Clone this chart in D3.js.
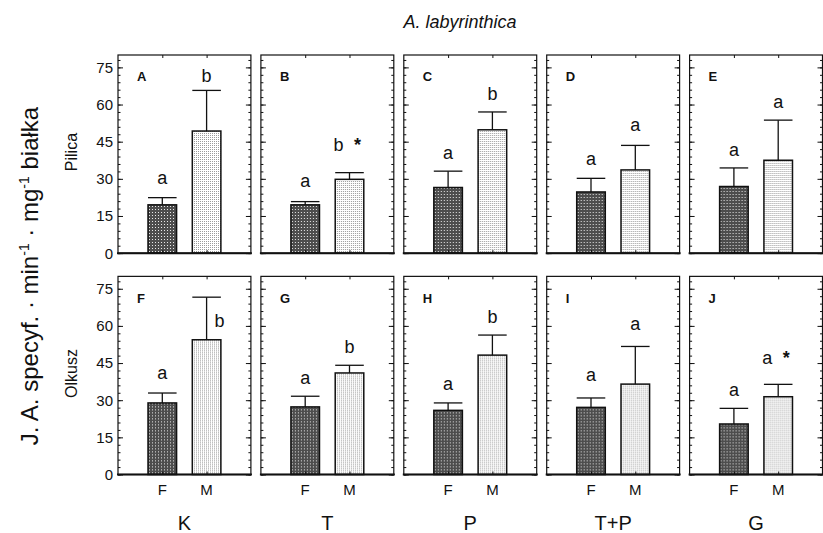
<!DOCTYPE html>
<html>
<head>
<meta charset="utf-8">
<script src="https://cdn.jsdelivr.net/npm/d3@7/dist/d3.min.js"></script>
<style>
  body { margin: 0; background: #fff; }
  text { font-family: "Liberation Sans", Arial, sans-serif; fill: #111; }
</style>
</head>
<body>
<div id="chart"></div>
<script>
// groups
var treatments = ["K", "T", "P", "T+P", "G"];
var sites = ["Pilica", "Olkusz"];
var sexes = ["F", "M"];
var panelIds = [["A", "B", "C", "D", "E"], ["F", "G", "H", "I", "J"]];
var yTicks = [0, 15, 30, 45, 60, 75];

// means and error (upper whisker length), one value per treatment
var pilicaF = [19.5, 19.5, 26.5, 24.7, 26.9];
var pilicaFerr = [2.9, 1.3, 6.6, 5.5, 7.5];
var pilicaM = [49.3, 29.8, 49.8, 33.6, 37.5];
var pilicaMerr = [16.4, 2.7, 7.2, 9.9, 16.2];
var olkuszF = [28.9, 27.3, 25.9, 27.1, 20.4];
var olkuszFerr = [4.0, 4.3, 3.0, 3.8, 6.3];
var olkuszM = [54.4, 41.0, 48.2, 36.5, 31.4];
var olkuszMerr = [17.2, 3.1, 8.1, 15.2, 5.0];

// significance letters, level (in data units) where they were printed, and stars
var pilicaFLetters = ["a", "a", "a", "a", "a"];
var pilicaMLetters = ["b", "b", "b", "a", "a"];
var olkuszFLetters = ["a", "a", "a", "a", "a"];
var olkuszMLetters = ["b", "b", "b", "a", "a"];
var pilicaFLevel = [28.1, 26.7, 37.9, 35.6, 39.2];
var pilicaMLevel = [69.1, 41.3, 61.8, 49.3, 58.7];
var olkuszFLevel = [38.7, 36.4, 34.0, 37.7, 31.6];
var olkuszMLevel = [59.5, 49.2, 61.3, 58.2, 44.8];
var pilicaMStar = [false, true, false, false, false];
var olkuszMStar = [false, false, false, false, true];

var width = 823, height = 533;

var svg = d3.select("#chart").append("svg")
  .attr("width", width)
  .attr("height", height);

var defs = svg.append("defs");
// dark crosshatch for F
var pf = defs.append("pattern").attr("id", "patF")
  .attr("patternUnits", "userSpaceOnUse").attr("width", 3).attr("height", 3);
pf.append("rect").attr("width", 3).attr("height", 3).attr("fill", "#4d4d4d");
pf.append("rect").attr("x", 1).attr("y", 1).attr("width", 1).attr("height", 1).attr("fill", "#e8e8e8");
// light dots for M
var pm = defs.append("pattern").attr("id", "patM")
  .attr("patternUnits", "userSpaceOnUse").attr("width", 2).attr("height", 2);
pm.append("rect").attr("width", 2).attr("height", 2).attr("fill", "#fff");
pm.append("rect").attr("width", 1).attr("height", 1).attr("fill", "#9a9a9a");

var colScale = d3.scaleBand().domain(treatments).range([118, 822.5]).paddingInner(0.07);
var rowScale = d3.scaleBand().domain(sites).range([55, 474.5]).paddingInner(0.105);
var pw = colScale.bandwidth(), ph = rowScale.bandwidth();

var x = d3.scalePoint().domain(sexes).range([0, pw]).padding(1);
var y = d3.scaleLinear().domain([0, 80]).range([ph, 0]);
var barW = pw * 0.215;

var siteData = {
  Pilica: { F: pilicaF, Ferr: pilicaFerr, M: pilicaM, Merr: pilicaMerr,
            FL: pilicaFLetters, ML: pilicaMLetters, FLv: pilicaFLevel, MLv: pilicaMLevel, star: pilicaMStar },
  Olkusz: { F: olkuszF, Ferr: olkuszFerr, M: olkuszM, Merr: olkuszMerr,
            FL: olkuszFLetters, ML: olkuszMLetters, FLv: olkuszFLevel, MLv: olkuszMLevel, star: olkuszMStar }
};

sites.forEach(function (site, si) {
  var sd = siteData[site];
  treatments.forEach(function (tr, ti) {
    var g = svg.append("g")
      .attr("transform", "translate(" + colScale(tr) + "," + rowScale(site) + ")");

    var bars = sexes.map(function (s) {
      return {
        sex: s,
        mean: sd[s][ti],
        err: sd[s + "err"][ti],
        letter: sd[s + "L"][ti],
        level: sd[s + "Lv"][ti],
        star: s === "M" && sd.star[ti]
      };
    });

    // bars
    g.selectAll("rect.bar").data(bars).enter().append("rect")
      .attr("class", "bar")
      .attr("x", function (d) { return x(d.sex) - barW / 2; })
      .attr("y", function (d) { return y(d.mean); })
      .attr("width", barW)
      .attr("height", function (d) { return y(0) - y(d.mean); })
      .attr("fill", function (d) { return d.sex === "F" ? "url(#patF)" : "url(#patM)"; })
      .attr("stroke", "#111")
      .attr("stroke-width", 1.5);

    // error bars
    g.selectAll("line.err").data(bars).enter().append("line")
      .attr("x1", function (d) { return x(d.sex); })
      .attr("x2", function (d) { return x(d.sex); })
      .attr("y1", function (d) { return y(d.mean); })
      .attr("y2", function (d) { return y(d.mean + d.err); })
      .attr("stroke", "#111").attr("stroke-width", 1.3);
    g.selectAll("line.cap").data(bars).enter().append("line")
      .attr("x1", function (d) { return x(d.sex) - barW / 2; })
      .attr("x2", function (d) { return x(d.sex) + barW / 2; })
      .attr("y1", function (d) { return y(d.mean + d.err); })
      .attr("y2", function (d) { return y(d.mean + d.err); })
      .attr("stroke", "#111").attr("stroke-width", 1.3);

    // letters (moved beside the whisker when printed lower than its cap)
    bars.forEach(function (d) {
      var cx = x(d.sex);
      if (d.level < d.mean + d.err) cx += 13;
      if (d.star) {
        g.append("text").attr("x", cx - 11).attr("y", y(d.level))
          .attr("text-anchor", "middle").attr("font-size", 18).text(d.letter);
        g.append("text").attr("x", cx + 8).attr("y", y(d.level))
          .attr("text-anchor", "middle").attr("font-size", 18).attr("font-weight", "bold").text("*");
      } else {
        g.append("text").attr("x", cx).attr("y", y(d.level))
          .attr("text-anchor", "middle").attr("font-size", 18).text(d.letter);
      }
    });

    // ticks
    var minor = d3.range(0, 80, 3);
    g.append("g").call(d3.axisLeft(y).tickValues(minor).tickSize(-2.5).tickFormat(""));
    g.append("g").call(d3.axisLeft(y).tickValues(yTicks).tickSize(-5).tickFormat(""));
    g.append("g").attr("transform", "translate(" + pw + ",0)")
      .call(d3.axisRight(y).tickValues(minor).tickSize(-2.5).tickFormat(""));
    g.append("g").attr("transform", "translate(" + pw + ",0)")
      .call(d3.axisRight(y).tickValues(yTicks).tickSize(-5).tickFormat(""));
    g.append("g").call(d3.axisTop(x).tickSize(-3).tickFormat(""));
    g.append("g").attr("transform", "translate(0," + ph + ")")
      .call(d3.axisBottom(x).tickSize(-3).tickFormat(""));
    g.selectAll(".domain").remove();
    g.selectAll(".tick line").attr("stroke", "#111");

    // frame
    g.append("rect").attr("width", pw).attr("height", ph)
      .attr("fill", "none").attr("stroke", "#111").attr("stroke-width", 1.2);
    g.append("line").attr("x1", -1).attr("x2", pw + 1).attr("y1", ph).attr("y2", ph)
      .attr("stroke", "#111").attr("stroke-width", 2);

    // panel id
    g.append("text").attr("x", 19).attr("y", si === 0 ? 26 : 27)
      .attr("font-size", 13).attr("font-weight", "bold").text(panelIds[si][ti]);

    // y tick labels on first column
    if (ti === 0) {
      g.selectAll("text.yl").data(yTicks).enter().append("text")
        .attr("x", -5).attr("y", function (d) { return y(d); })
        .attr("dy", "0.36em").attr("text-anchor", "end").attr("font-size", 15)
        .text(function (d) { return d; });
      g.append("text")
        .attr("transform", "translate(-41," + (ph / 2 - 2) + ") rotate(-90)")
        .attr("text-anchor", "middle").attr("font-size", 16).text(site);
    }

    // x labels on bottom row
    if (si === sites.length - 1) {
      g.selectAll("text.xl").data(sexes).enter().append("text")
        .attr("x", function (d) { return x(d); }).attr("y", ph + 21)
        .attr("text-anchor", "middle").attr("font-size", 15).text(function (d) { return d; });
      g.append("text").attr("x", pw / 2).attr("y", ph + 56)
        .attr("text-anchor", "middle").attr("font-size", 20).text(tr);
    }
  });
});

// title
svg.append("text").attr("x", 460).attr("y", 28)
  .attr("text-anchor", "middle").attr("font-size", 18).attr("font-style", "italic")
  .text("A. labyrinthica");

// y axis title
var yt = svg.append("text")
  .attr("transform", "translate(38,276) rotate(-90)")
  .attr("text-anchor", "middle").attr("font-size", 24);
yt.append("tspan").text("J. A. specyf. \u00b7 min");
yt.append("tspan").attr("dy", -9).attr("font-size", 14).text("-1");
yt.append("tspan").attr("dy", 9).text(" \u00b7 mg");
yt.append("tspan").attr("dy", -9).attr("font-size", 14).text("-1");
yt.append("tspan").attr("dy", 9).text(" bia\u0142ka");
</script>
</body>
</html>
